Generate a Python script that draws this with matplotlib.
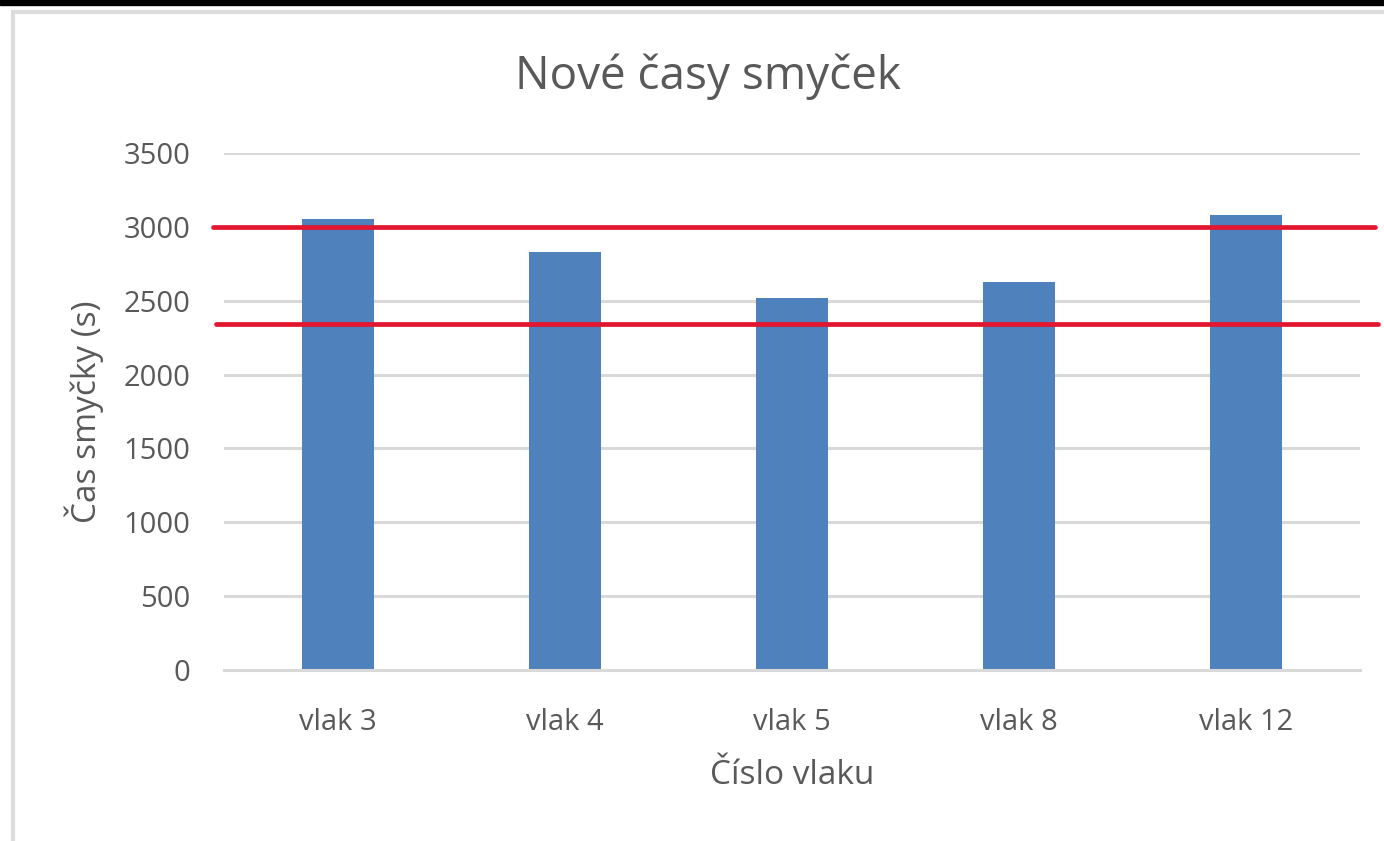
import matplotlib.pyplot as plt
import matplotlib.patches as patches

# data
trains = ["vlak 3", "vlak 4", "vlak 5", "vlak 8", "vlak 12"]
loop_times = [3055, 2830, 2520, 2625, 3080]
limits = [3000, 2340]

bar_col = "#4F81BD"
txt_col = "#595959"
red = "#E3162F"

plt.rcParams['font.family'] = ['Open Sans', 'DejaVu Sans']

fig = plt.figure(figsize=(13.84, 8.41), dpi=100)
ax = fig.add_axes([224/1384, 1 - 670/841, 1136/1384, 517/841])

# window frame of the screenshot
fig.patches.append(patches.Rectangle((0, 1 - 5/841), 1, 5/841, transform=fig.transFigure,
                                     color="black", zorder=0))
fig.patches.append(patches.Rectangle((13/1384, -0.01), 1.1, 1 - 12/841 + 0.01, transform=fig.transFigure,
                                     fill=False, ec="#DCDCDC", lw=3, zorder=0))

x = range(len(trains))
ax.bar(x, loop_times, width=0.317, color=bar_col, zorder=2)

# threshold lines drawn over the chart
ax.axhline(limits[0], xmin=-0.0097, xmax=1.0132, color=red, lw=3.4, clip_on=False, zorder=3,
           solid_capstyle="round")
ax.axhline(limits[1], xmin=-0.007, xmax=1.0158, color=red, lw=3.4, clip_on=False, zorder=3,
           solid_capstyle="round")

ax.set_xlim(-0.5, len(trains) - 0.5)
ax.set_ylim(0, 3500)
ax.set_yticks(range(0, 3501, 500))
ax.set_xticks(list(x))
ax.set_xticklabels(trains)
ax.yaxis.grid(True, color="#D9D9D9", lw=2.2, zorder=0)
ax.set_axisbelow(True)
for s in ["top", "right", "left"]:
    ax.spines[s].set_visible(False)
ax.spines["bottom"].set_color("#D9D9D9")
ax.spines["bottom"].set_linewidth(2.2)
ax.tick_params(axis="both", length=0, labelsize=21, labelcolor=txt_col)
ax.tick_params(axis="y", pad=24)
ax.tick_params(axis="x", pad=27)

fig.text(708/1384, 1 - 77/841, "Nové časy smyček", fontsize=33, color=txt_col,
         ha="center", va="center")
ax.set_ylabel("Čas smyčky (s)", fontsize=24, color=txt_col, labelpad=14)
ax.set_xlabel("Číslo vlaku", fontsize=24, color=txt_col, labelpad=16)

fig.savefig("out.png", dpi=100)
